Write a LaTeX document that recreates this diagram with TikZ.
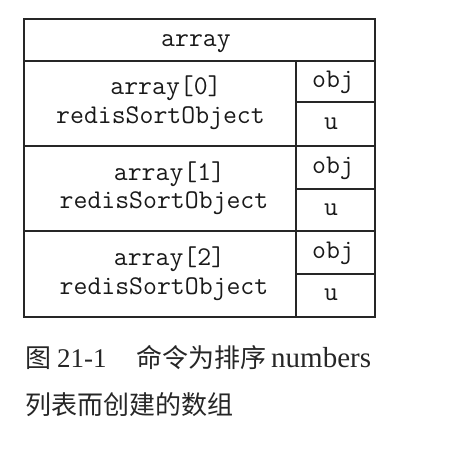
\documentclass[tikz,border=0pt]{standalone}
\usepackage{fontspec}
\setmainfont{Liberation Serif}
\newfontfamily\cjk{Noto Sans CJK SC}
\begin{document}
\begin{tikzpicture}[x=1pt,y=-1pt,
  cell/.style={draw=black!85, line width=1.5pt, inner sep=0pt, anchor=north west},
  mono/.style={inner sep=0pt, anchor=base, font=\ttfamily\fontsize{27}{30}\selectfont, text=black!90},
  captxt/.style={inner sep=0pt, anchor=base west, font=\fontsize{27}{30}\selectfont, text=black!85},
  capcjk/.style={captxt, font=\cjk\fontsize{26}{30}\selectfont}]
\useasboundingbox (0,0) rectangle (466,448);
% cells
\node[cell, minimum width=351pt, minimum height=42pt] (head) at (23,18) {};
\node[cell, minimum width=272pt, minimum height=85pt] (e0) at (23,60) {};
\node[cell, minimum width=272pt, minimum height=85pt] (e1) at (23,145) {};
\node[cell, minimum width=272pt, minimum height=86pt] (e2) at (23,230) {};
\node[cell, minimum width=79pt, minimum height=41pt] (o0) at (295,60) {};
\node[cell, minimum width=79pt, minimum height=44pt] (u0) at (295,101) {};
\node[cell, minimum width=79pt, minimum height=43pt] (o1) at (295,145) {};
\node[cell, minimum width=79pt, minimum height=42pt] (u1) at (295,188) {};
\node[cell, minimum width=79pt, minimum height=43pt] (o2) at (295,230) {};
\node[cell, minimum width=79pt, minimum height=43pt] (u2) at (295,273) {};
% texts
\node[mono] (thead) at (196,46) {array};
\node[mono] (ta0) at (166,94) {array[0]};
\node[mono] (tr0) at (160.5,123) {redisSortObject};
\node[mono] (ta1) at (169.5,180) {array[1]};
\node[mono] (tr1) at (164,208) {redisSortObject};
\node[mono] (ta2) at (169.5,265) {array[2]};
\node[mono] (tr2) at (164,294) {redisSortObject};
\node[mono] (to0) at (333,87) {obj};
\node[mono] (tu0) at (331,129) {u};
\node[mono] (to1) at (333,173) {obj};
\node[mono] (tu1) at (331,215) {u};
\node[mono] (to2) at (333,258) {obj};
\node[mono] (tu2) at (331,300) {u};
% caption
\node[capcjk] (c1) at (25,367) {图};
\node[captxt] (c2) at (57,367) {21-1};
\node[capcjk] (c3) at (136,367) {命令为排序};
\node[captxt, font=\fontsize{29}{30}\selectfont] (c4) at (271,367) {numbers};
\node[capcjk] (c5) at (25,414) {列表而创建的数组};
\end{tikzpicture}
\end{document}
